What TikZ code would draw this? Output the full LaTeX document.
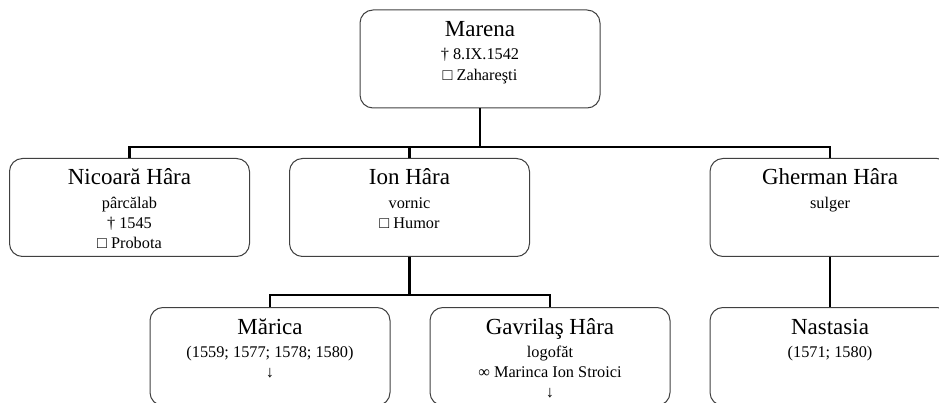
\documentclass[tikz,border=0pt]{standalone}
\usepackage{fontspec}
\setmainfont{Liberation Serif}
\usetikzlibrary{positioning}

% text of one box: name on top, then the smaller lines
\newcommand{\persona}[2]{\parbox[t][98pt][t]{240pt}{\centering
  \fontsize{23}{27}\selectfont\rule{0pt}{26.5pt}#1\par\vspace{3pt}
  \fontsize{16.3}{20.3}\selectfont #2\par}}

\begin{document}
\begin{tikzpicture}[node distance=149pt]

\tikzstyle{persoana}=[draw=black!75,line width=1pt,rounded corners=13pt,inner sep=0pt]
\tikzstyle{legatura}=[draw=black,line width=2.8pt]

\useasboundingbox (0,0) rectangle (939pt,-403pt);
\clip (0,0) rectangle (939pt,-403pt);

\node[persoana] (marena)   at (480pt,-59pt)      {\persona{Marena}{† 8.IX.1542\\ □ Zahareşti}};
\node[persoana] (nicoara)  at (129.5pt,-207.5pt) {\persona{Nicoară Hâra}{pârcălab\\ † 1545\\ □ Probota}};
\node[persoana] (ion)      at (409.5pt,-207.5pt) {\persona{Ion Hâra}{vornic\\ □ Humor}};
\node[persoana] (gherman)  at (830pt,-207.5pt)   {\persona{Gherman Hâra}{sulger}};
\node[persoana] (marica)   at (270pt,-356.5pt)   {\persona{Mărica}{(1559; 1577; 1578; 1580)\\ ↓}};
\node[persoana] (gavrilas) at (550pt,-356.5pt)   {\persona{Gavrilaş Hâra}{logofăt\\ ∞ Marinca Ion Stroici\\ ↓}};
\node[persoana] (nastasia) [below of=gherman]    {\persona{Nastasia}{(1571; 1580)}};

\coordinate (bus1) at (480pt,-147pt);
\coordinate (bus2) at (409.5pt,-295pt);

\draw[legatura] (marena.south) -- (bus1);
\draw[legatura] (nicoara.north) |- (bus1) -| (gherman.north);
\draw[legatura] (ion.north) -- (ion.north |- bus1);
\draw[legatura] (ion.south) -- (bus2);
\draw[legatura] (marica.north) |- (bus2) -| (gavrilas.north);
\draw[legatura] (gherman.south) -- (nastasia.north);

\end{tikzpicture}
\end{document}
